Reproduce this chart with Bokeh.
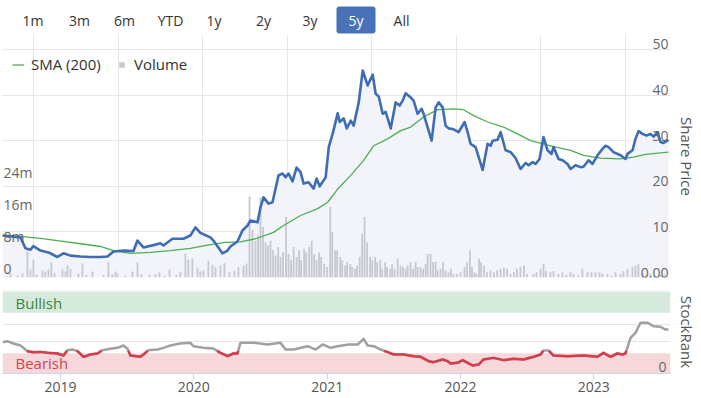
from datetime import datetime, timedelta
import numpy as np
from bokeh.plotting import figure
from bokeh.models import (Range1d, FixedTicker, Grid, Label, Legend, LegendItem, LinearAxis,
                          BoxAnnotation, ColumnDataSource, Span, DatetimeTickFormatter)
from bokeh.layouts import column
from bokeh.embed import file_html
from bokeh.resources import INLINE
from bokeh.core.properties import value

# ---------------- data (times as decimal years) ----------------
price_t = [2018.565, 2018.700, 2018.737, 2018.775, 2018.797, 2018.850, 2018.910, 2018.977, 2019.023, 2019.075,
           2019.150, 2019.225, 2019.300, 2019.353, 2019.398, 2019.473, 2019.548, 2019.578, 2019.623, 2019.698,
           2019.750, 2019.773, 2019.840, 2019.923, 2019.975, 2020.013, 2020.050, 2020.125, 2020.148, 2020.215,
           2020.253, 2020.275, 2020.328, 2020.365, 2020.403, 2020.425, 2020.478, 2020.500, 2020.523, 2020.560,
           2020.590, 2020.613, 2020.635, 2020.665, 2020.688, 2020.710, 2020.740, 2020.770, 2020.800, 2020.823,
           2020.860, 2020.898, 2020.920, 2020.943, 2020.988, 2021.011, 2021.041, 2021.078, 2021.093, 2021.123,
           2021.146, 2021.176, 2021.198, 2021.236, 2021.266, 2021.303, 2021.341, 2021.363, 2021.386, 2021.416,
           2021.438, 2021.476, 2021.513, 2021.543, 2021.566, 2021.588, 2021.626, 2021.648, 2021.678, 2021.708,
           2021.723, 2021.783, 2021.813, 2021.836, 2021.866, 2021.888, 2021.911, 2021.948, 2021.986, 2022.031,
           2022.053, 2022.076, 2022.113, 2022.166, 2022.203, 2022.226, 2022.241, 2022.278, 2022.301, 2022.338,
           2022.376, 2022.413, 2022.451, 2022.488, 2022.511, 2022.541, 2022.563, 2022.593, 2022.623, 2022.653,
           2022.683, 2022.698, 2022.736, 2022.766, 2022.803, 2022.826, 2022.863, 2022.901, 2022.923, 2022.961,
           2022.991, 2023.028, 2023.066, 2023.088, 2023.111, 2023.148, 2023.201, 2023.238, 2023.253, 2023.291,
           2023.313, 2023.336, 2023.366, 2023.396, 2023.426, 2023.449, 2023.479, 2023.501, 2023.524, 2023.561]
price = [9.2, 8.8, 6.4, 6.1, 6.9, 5.9, 5.5, 4.5, 5.3, 4.8,
         4.6, 4.5, 4.5, 4.6, 5.7, 5.9, 5.8, 8.1, 6.6, 7.1,
         7.5, 7.0, 8.5, 8.5, 9.2, 11.0, 9.8, 8.8, 8.1, 5.3,
         5.9, 6.8, 7.9, 10.3, 11.4, 12.5, 12.1, 15.4, 17.6, 16.2,
         16.5, 19.5, 22.4, 22.8, 22.0, 22.8, 21.1, 24.1, 23.1, 20.6,
         20.9, 19.5, 21.7, 20.0, 22.0, 28.6, 31.6, 36.0, 34.1, 34.9,
         32.7, 34.4, 33.3, 38.4, 45.4, 42.1, 44.5, 40.3, 39.7, 35.9,
         36.3, 32.7, 38.4, 37.7, 38.8, 40.4, 39.5, 38.8, 35.9, 37.0,
         35.9, 30.0, 37.3, 38.4, 37.3, 33.3, 32.7, 32.5, 31.9, 34.1,
         31.9, 29.3, 28.6, 23.6, 29.3, 28.9, 30.0, 30.2, 31.9, 27.9,
         27.5, 26.2, 23.8, 25.1, 24.6, 25.3, 24.9, 26.0, 30.8, 27.9,
         27.1, 28.6, 26.0, 25.7, 24.9, 23.8, 24.6, 24.2, 24.3, 25.7,
         24.9, 26.8, 28.2, 28.9, 28.6, 27.5, 26.8, 26.0, 27.1, 27.9,
         30.4, 32.1, 31.5, 31.1, 31.5, 30.9, 31.9, 29.7, 29.5, 30.2]

sma_t = [2018.565, 2018.700, 2018.850, 2018.977, 2019.150, 2019.300, 2019.398, 2019.525, 2019.675, 2019.825,
         2019.975, 2020.125, 2020.238, 2020.350, 2020.463, 2020.598, 2020.673, 2020.800, 2020.928, 2021.003,
         2021.078, 2021.176, 2021.273, 2021.348, 2021.453, 2021.551, 2021.626, 2021.723, 2021.828, 2021.948,
         2022.023, 2022.098, 2022.203, 2022.323, 2022.428, 2022.526, 2022.698, 2022.826, 2022.923, 2023.051,
         2023.201, 2023.298, 2023.388, 2023.561]
sma = [9.2, 9.0, 8.6, 8.1, 7.4, 6.8, 5.9, 5.3, 5.5, 5.9,
       6.4, 7.2, 7.7, 7.8, 8.5, 9.9, 11.4, 13.6, 15.1, 16.5,
       19.4, 22.4, 25.7, 28.9, 30.4, 32.2, 33.0, 35.2, 36.8, 37.0,
       36.8, 35.5, 34.1, 33.0, 31.5, 30.0, 28.7, 27.9, 26.8, 26.2,
       26.0, 26.4, 27.0, 27.5]

vol_t = [2018.625, 2018.678, 2018.715, 2018.752, 2018.775, 2018.797, 2018.820, 2018.865, 2018.887, 2018.910,
         2018.932, 2018.955, 2019.015, 2019.038, 2019.053, 2019.075, 2019.135, 2019.165, 2019.195, 2019.240,
         2019.323, 2019.360, 2019.390, 2019.413, 2019.428, 2019.488, 2019.540, 2019.578, 2019.608, 2019.668,
         2019.713, 2019.743, 2019.780, 2019.818, 2019.870, 2019.900, 2019.938, 2019.960, 2019.990, 2020.028,
         2020.050, 2020.073, 2020.110, 2020.140, 2020.163, 2020.200, 2020.230, 2020.268, 2020.305, 2020.335,
         2020.373, 2020.395, 2020.418, 2020.440, 2020.463, 2020.482, 2020.500, 2020.519, 2020.538, 2020.556,
         2020.575, 2020.594, 2020.613, 2020.632, 2020.650, 2020.669, 2020.691, 2020.710, 2020.729, 2020.748,
         2020.770, 2020.789, 2020.804, 2020.827, 2020.842, 2020.864, 2020.883, 2020.902, 2020.920, 2020.939,
         2020.954, 2020.977, 2020.999, 2021.022, 2021.037, 2021.059, 2021.074, 2021.097, 2021.112, 2021.134,
         2021.149, 2021.172, 2021.187, 2021.209, 2021.224, 2021.243, 2021.262, 2021.280, 2021.299, 2021.322,
         2021.337, 2021.359, 2021.374, 2021.397, 2021.412, 2021.434, 2021.449, 2021.472, 2021.487, 2021.505,
         2021.528, 2021.550, 2021.569, 2021.588, 2021.603, 2021.625, 2021.644, 2021.663, 2021.678, 2021.700,
         2021.719, 2021.738, 2021.753, 2021.775, 2021.794, 2021.813, 2021.828, 2021.850, 2021.869, 2021.888,
         2021.910, 2021.929, 2021.948, 2021.974, 2022.000, 2022.030, 2022.049, 2022.071, 2022.086, 2022.105,
         2022.120, 2022.139, 2022.154, 2022.176, 2022.199, 2022.225, 2022.251, 2022.274, 2022.300, 2022.326,
         2022.349, 2022.375, 2022.401, 2022.424, 2022.450, 2022.476, 2022.499, 2022.548, 2022.570, 2022.600,
         2022.623, 2022.641, 2022.675, 2022.698, 2022.735, 2022.765, 2022.795, 2022.825, 2022.848, 2022.885,
         2022.915, 2022.953, 2022.983, 2023.013, 2023.043, 2023.065, 2023.103, 2023.133, 2023.163, 2023.200,
         2023.223, 2023.253, 2023.290, 2023.313, 2023.335, 2023.365, 2023.395, 2023.425, 2023.463, 2023.500,
         2023.530]
vol_m = [0.8, 0.5, 1.0, 6.5, 2.0, 4.5, 0.7, 1.8, 1.5, 2.0,
         3.8, 1.2, 2.0, 1.5, 3.0, 2.2, 1.0, 3.5, 0.6, 1.5,
         0.6, 3.8, 0.8, 1.5, 1.0, 0.5, 1.5, 3.8, 0.8, 0.6,
         0.8, 1.3, 0.5, 2.0, 0.7, 1.4, 6.0, 4.5, 4.8, 2.5,
         1.5, 1.8, 4.2, 3.2, 2.6, 3.0, 3.6, 1.3, 1.7, 2.6,
         3.0, 3.5, 20.2, 12.0, 9.2, 10.5, 20.0, 12.6, 8.8, 8.0,
         9.2, 6.8, 5.5, 7.6, 5.1, 6.3, 15.1, 5.9, 4.3, 7.6,
         5.1, 6.8, 4.3, 7.2, 6.3, 7.6, 9.2, 5.9, 4.3, 6.3,
         5.1, 3.4, 2.6, 17.6, 11.3, 6.8, 6.8, 5.1, 4.3, 3.0,
         3.8, 3.4, 2.6, 2.2, 3.0, 5.1, 10.9, 15.1, 8.8, 5.1,
         4.3, 5.1, 3.8, 4.3, 2.2, 3.8, 2.6, 2.2, 3.4, 2.2,
         4.7, 3.0, 2.6, 2.2, 3.0, 3.9, 2.2, 3.9, 2.6, 2.6,
         2.2, 3.4, 5.9, 5.9, 3.9, 3.9, 1.8, 2.2, 3.8, 1.8,
         1.3, 2.2, 0.9, 0.9, 1.3, 2.6, 3.8, 6.8, 2.6, 1.3,
         0.9, 4.7, 3.8, 3.0, 1.3, 1.8, 1.3, 1.8, 2.2, 2.4,
         2.2, 0.9, 1.3, 2.2, 2.6, 3.0, 0.9, 0.9, 1.3, 2.2,
         3.4, 1.6, 1.3, 1.6, 0.9, 1.3, 0.6, 1.3, 0.9, 0.5,
         2.2, 1.3, 1.3, 1.3, 1.3, 1.0, 0.9, 0.5, 1.3, 0.9,
         1.6, 2.2, 2.6, 3.0, 3.4, 1.0, 0.6, 0.8, 0.5, 0.6,
         0.8]

rank_t = [2018.565, 2018.602, 2018.647, 2018.700, 2018.752, 2018.797, 2018.850, 2018.902, 2018.977, 2019.023,
          2019.053, 2019.090, 2019.128, 2019.173, 2019.225, 2019.278, 2019.315, 2019.375, 2019.428, 2019.473,
          2019.503, 2019.525, 2019.600, 2019.623, 2019.660, 2019.728, 2019.773, 2019.825, 2019.900, 2019.975,
          2019.998, 2020.073, 2020.148, 2020.200, 2020.253, 2020.298, 2020.328, 2020.350, 2020.448, 2020.553,
          2020.650, 2020.688, 2020.748, 2020.853, 2020.913, 2020.965, 2021.026, 2021.078, 2021.161, 2021.228,
          2021.273, 2021.303, 2021.348, 2021.401, 2021.453, 2021.498, 2021.573, 2021.648, 2021.701, 2021.761,
          2021.798, 2021.866, 2021.903, 2021.926, 2021.978, 2022.016, 2022.053, 2022.091, 2022.136, 2022.173,
          2022.248, 2022.323, 2022.398, 2022.473, 2022.548, 2022.601, 2022.623, 2022.661, 2022.698, 2022.803,
          2022.923, 2023.028, 2023.073, 2023.126, 2023.178, 2023.216, 2023.238, 2023.276, 2023.313, 2023.351,
          2023.404, 2023.449, 2023.501, 2023.539, 2023.561]
rank = [38.7, 39.9, 37.0, 34.6, 27.6, 26.3, 26.7, 25.5, 24.7, 22.2,
        28.8, 29.6, 27.6, 20.6, 23.5, 24.7, 28.8, 30.5, 31.7, 34.6,
        30.5, 22.2, 20.6, 23.5, 28.8, 29.6, 31.7, 34.6, 37.0, 37.9,
        33.7, 31.7, 30.9, 25.5, 21.4, 24.7, 24.7, 37.9, 37.9, 35.8,
        37.9, 29.6, 29.6, 33.7, 29.6, 35.8, 31.7, 33.7, 35.8, 35.8,
        42.8, 34.6, 33.7, 29.6, 26.3, 23.5, 23.5, 21.4, 20.6, 15.2,
        14.0, 17.3, 15.2, 12.3, 13.2, 16.5, 13.2, 9.9, 11.1, 17.3,
        19.3, 16.5, 18.1, 17.3, 20.6, 23.5, 28.5, 28.5, 22.2, 21.4,
        22.2, 20.6, 25.5, 20.6, 24.7, 23.5, 24.7, 44.0, 50.2, 62.6,
        62.6, 58.4, 57.6, 54.3, 54.3]

price_ticks = [0, 10, 20, 30, 40, 50]
price_tick_labels = ["0.00", "10", "20", "30", "40", "50"]
vol_ticks = [0, 8, 16, 24]
vol_tick_labels = ["0", "8m", "16m", "24m"]
rank_tick_label = "0"
year_ticks = [2019, 2020, 2021, 2022, 2023]
buttons = ["1m", "3m", "6m", "YTD", "1y", "2y", "3y", "5y", "All"]
active_button = "5y"
bearish_band = (0, 25)
bullish_band = (75, 100)
bearish_threshold = 28

# ---------------- helpers ----------------
EPOCH = datetime(1970, 1, 1)


def to_ms(t):
    y = int(np.floor(t))
    start = datetime(y, 1, 1)
    days = (datetime(y + 1, 1, 1) - start).days
    d = start + timedelta(days=(t - y) * days)
    return (d - EPOCH).total_seconds() * 1000.0


def below_segments(xs, ys, thr):
    segs_x, segs_y = [], []
    cx, cy = [], []
    for i in range(len(xs)):
        x, y = xs[i], ys[i]
        if i > 0:
            x0, y0 = xs[i - 1], ys[i - 1]
            if (y0 < thr) != (y < thr):
                f = (thr - y0) / (y - y0)
                xc = x0 + f * (x - x0)
                if y0 < thr:
                    cx.append(xc); cy.append(thr)
                    segs_x.append(cx); segs_y.append(cy)
                    cx, cy = [], []
                else:
                    cx, cy = [xc], [thr]
        if y < thr:
            cx.append(x); cy.append(y)
    if cx:
        segs_x.append(cx); segs_y.append(cy)
    return segs_x, segs_y


FONT = "Open Sans"
W = 700
price_x = [to_ms(t) for t in price_t]
sma_x = [to_ms(t) for t in sma_t]
vol_x = [to_ms(t) for t in vol_t]
rank_x = [to_ms(t) for t in rank_t]

x_start, x_end = to_ms(2018.565), to_ms(2023.576)
xr = Range1d(x_start, x_end)

# ---------------- range selector buttons (page-pixel coordinates) ----------------
p0 = figure(width=W, height=35, x_range=Range1d(2, 670), y_range=Range1d(0, 35),
            x_axis_location=None, y_axis_location=None, toolbar_location=None,
            output_backend="svg", min_border_left=2, min_border_right=30,
            min_border_top=0, min_border_bottom=0, outline_line_color=None)
p0.xgrid.visible = False
p0.ygrid.visible = False
button_x = [32.5, 79, 124, 170, 213.5, 263, 309.5, 355.5, 401]
active_i = buttons.index(active_button)
p0.add_layout(BoxAnnotation(left=button_x[active_i] - 19.5, right=button_x[active_i] + 19.5,
                            bottom=2, top=29, fill_color="#4a72b8", fill_alpha=1,
                            line_alpha=0, border_radius=3, level="underlay"))
p0.text(x=button_x, y=[15.5] * len(buttons), text=buttons,
        text_color=["white" if b == active_button else "#333333" for b in buttons],
        text_align="center", text_baseline="middle", text_font=value(FONT),
        text_font_size="14px")

# ---------------- main price panel ----------------
p1 = figure(width=W, height=255, x_range=xr, y_range=Range1d(0, 53.07),
            x_axis_location=None, y_axis_location=None, toolbar_location=None,
            output_backend="svg", min_border_left=2, min_border_right=30,
            min_border_top=0, min_border_bottom=13, outline_line_color=None)
p1.extra_y_ranges = {"vol": Range1d(0, 60.5)}

grid = Grid(dimension=1, ticker=FixedTicker(ticks=price_ticks),
            grid_line_color="#e6e6e6", grid_line_width=1)
p1.add_layout(grid)

psrc = ColumnDataSource(dict(x=price_x, y=price))
p1.varea(x="x", y1=0, y2="y", source=psrc, fill_color="#f2f4f9")
vol_r = p1.vbar(x=vol_x, top=vol_m, width=5 * 86400000, y_range_name="vol",
                fill_color="#c8c9d0", line_color=None)
sma_r = p1.line(sma_x, sma, line_color="#4caf50", line_width=1.3)
p1.line("x", "y", source=psrc, line_color="#3e6db5", line_width=2.6, line_join="round")

p1.text(x=[x_end] * len(price_ticks), y=price_ticks, text=price_tick_labels,
        text_align="right", text_baseline="alphabetic", x_offset=-2, y_offset=-5,
        text_font=value(FONT), text_font_size="14px", text_color="#666666")
p1.text(x=[x_start] * len(vol_ticks), y=vol_ticks, text=vol_tick_labels, y_range_name="vol",
        text_align="left", text_baseline="alphabetic", x_offset=1, y_offset=-9,
        text_font=value(FONT), text_font_size="14px", text_color="#666666")

leg_kw = dict(orientation="horizontal", glyph_height=7, label_height=7, padding=0, margin=0,
              border_line_color=None, background_fill_alpha=0, label_text_font=FONT,
              label_text_font_size="15px", label_text_color="#333333")
leg1 = Legend(items=[LegendItem(label="SMA (200)", renderers=[sma_r])], location=(10, 203),
              glyph_width=12, label_standoff=7, **leg_kw)
leg2 = Legend(items=[LegendItem(label="Volume", renderers=[vol_r])], location=(116, 203),
              glyph_width=7, label_standoff=9, **leg_kw)
p1.add_layout(leg1)
p1.add_layout(leg2)

ax1 = LinearAxis(ticker=FixedTicker(ticks=[]), axis_label="Share Price",
                 axis_line_color=None, major_tick_out=0, major_tick_in=0,
                 minor_tick_out=0, minor_tick_in=0, major_label_standoff=0,
                 axis_label_standoff=6, axis_label_text_font=FONT,
                 axis_label_text_font_size="15px", axis_label_text_font_style="normal",
                 axis_label_text_color="#555555")
p1.add_layout(ax1, "right")

# ---------------- StockRank panel ----------------
p2 = figure(width=W, height=108, x_range=xr, y_range=Range1d(0, 102.5),
            x_axis_type="datetime", y_axis_location=None, toolbar_location=None,
            output_backend="svg", min_border_left=2, min_border_right=30,
            min_border_top=0, min_border_bottom=25, outline_line_color=None)
p2.xgrid.visible = False

p2.add_layout(BoxAnnotation(bottom=bearish_band[0], top=bearish_band[1], fill_color="#f6d8da",
                            fill_alpha=1, line_alpha=0, level="underlay"))
p2.add_layout(BoxAnnotation(bottom=bullish_band[0], top=bullish_band[1], fill_color="#d5e9dc",
                            fill_alpha=1, line_alpha=0, level="underlay"))
p2.add_layout(Span(location=102, dimension="width", line_color="#dddddd", line_width=1))

p2.line(rank_x, rank, line_color="#a0a0a0", line_width=2.5, line_join="round")
rx, ry = below_segments(rank_x, rank, bearish_threshold)
p2.multi_line(rx, ry, line_color="#d63c4c", line_width=2.5, line_join="round")

p2.add_layout(Label(x=13, y=(bullish_band[0] + bullish_band[1]) / 2, x_units="screen", y_units="data",
                    text="Bullish", text_baseline="middle", text_font=FONT, text_font_size="15px",
                    text_color="#3b873d"))
p2.add_layout(Label(x=13, y=(bearish_band[0] + bearish_band[1]) / 2, x_units="screen", y_units="data",
                    text="Bearish", text_baseline="middle", text_font=FONT, text_font_size="15px",
                    text_color="#d8404d"))
p2.add_layout(Label(x=664, y=8.6, x_units="screen", y_units="data", text=rank_tick_label,
                    text_align="right", text_baseline="middle", text_font=FONT,
                    text_font_size="14px", text_color="#666666"))

ax2r = LinearAxis(ticker=FixedTicker(ticks=[]), axis_label="StockRank",
                  axis_line_color=None, major_tick_out=0, major_tick_in=0,
                  minor_tick_out=0, minor_tick_in=0, major_label_standoff=0,
                  axis_label_standoff=6, axis_label_text_font=FONT,
                  axis_label_text_font_size="15px", axis_label_text_font_style="normal",
                  axis_label_text_color="#555555")
p2.add_layout(ax2r, "right")

ax = p2.xaxis[0]
ax.ticker = FixedTicker(ticks=[to_ms(y) for y in year_ticks])
ax.formatter = DatetimeTickFormatter(years="%Y", months="%Y", days="%Y", hours="%Y")
ax.axis_line_color = "#ccd6eb"
ax.major_tick_line_color = "#ccd6eb"
ax.major_tick_out = 6
ax.major_tick_in = 0
ax.minor_tick_line_color = None
ax.major_label_standoff = 2
ax.major_label_text_font = FONT
ax.major_label_text_font_size = "14px"
ax.major_label_text_color = "#555555"

layout = column(p0, p1, p2, spacing=0)
open("out.html", "w").write(file_html(layout, INLINE))
